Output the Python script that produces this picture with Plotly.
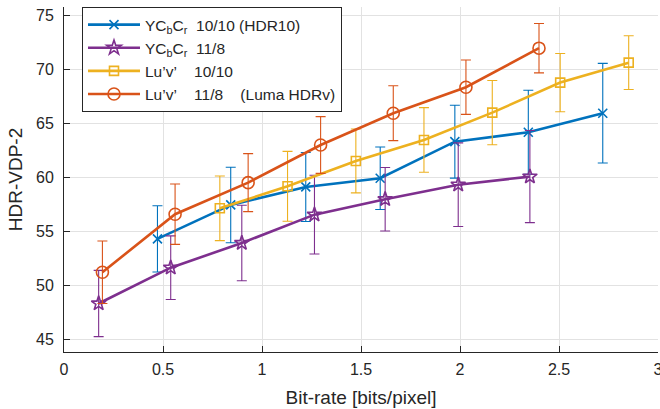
import plotly.graph_objects as go

# HDR-VDP-2 quality vs bit-rate for four colour encodings (mean +/- error)
ycbcr_1010_rate = [0.472, 0.842, 1.221, 1.597, 1.974, 2.345, 2.721]
ycbcr_1010_vdp = [54.29, 57.44, 59.11, 59.92, 63.31, 64.18, 65.95]
ycbcr_1010_err = [3.07, 3.50, 3.20, 2.90, 3.38, 3.90, 4.62]

ycbcr_118_rate = [0.175, 0.539, 0.898, 1.265, 1.622, 1.991, 2.353]
ycbcr_118_vdp = [48.30, 51.62, 53.91, 56.54, 57.97, 59.32, 60.07]
ycbcr_118_err = [3.07, 2.95, 3.50, 3.65, 2.94, 3.88, 4.27]

luv_1010_rate = [0.787, 1.129, 1.474, 1.818, 2.163, 2.506, 2.852]
luv_1010_vdp = [57.13, 59.17, 61.52, 63.47, 66.00, 68.79, 70.64]
luv_1010_err = [3.00, 3.24, 2.96, 3.00, 2.98, 2.70, 2.49]

luv_118_rate = [0.194, 0.561, 0.930, 1.296, 1.663, 2.030, 2.399]
luv_118_vdp = [51.20, 56.58, 59.51, 63.00, 65.95, 68.36, 71.98]
luv_118_err = [2.90, 2.80, 2.69, 2.63, 2.54, 2.52, 2.29]

NB = "\u00a0"
series_names = [
    "YC<sub>b</sub>C<sub>r</sub>" + NB * 2 + "10/10" + NB + "(HDR10)",
    "YC<sub>b</sub>C<sub>r</sub>" + NB * 2 + "11/8",
    "Lu\u2019v\u2019" + NB * 4 + "10/10",
    "Lu\u2019v\u2019" + NB * 4 + "11/8" + NB * 4 + "(Luma HDRv)",
]

x_ticks = [0, 0.5, 1, 1.5, 2, 2.5, 3]
y_ticks = [45, 50, 55, 60, 65, 70, 75]

FONT = "Liberation Sans, Arial, Helvetica, sans-serif"
INK = "#262626"

series = [
    (ycbcr_1010_rate, ycbcr_1010_vdp, ycbcr_1010_err, "#0072BD", "x-thin-open", 9),
    (ycbcr_118_rate, ycbcr_118_vdp, ycbcr_118_err, "#7E2F8E", "star-open", 11),
    (luv_1010_rate, luv_1010_vdp, luv_1010_err, "#EDB120", "square-open", 9),
    (luv_118_rate, luv_118_vdp, luv_118_err, "#D95319", "circle-open", 12),
]

fig = go.Figure()
for name, (xs, ys, es, col, sym, size) in zip(series_names, series):
    fig.add_trace(go.Scatter(
        x=xs, y=ys, name=name, mode="lines+markers",
        line=dict(color=col, width=2.6),
        marker=dict(symbol=sym, size=size, color=col,
                    line=dict(color=col, width=1.6)),
        error_y=dict(type="data", array=es, visible=True,
                     color=col, thickness=1.1, width=5),
    ))

fig.update_layout(
    width=660, height=409,
    margin=dict(l=64, r=2, t=7, b=57, autoexpand=False),
    paper_bgcolor="white", plot_bgcolor="white",
    font=dict(family=FONT, size=16, color=INK),
    showlegend=True,
    legend=dict(
        x=0.0303, y=1.0, xanchor="left", yanchor="top",
        bgcolor="white", bordercolor=INK, borderwidth=1,
        font=dict(family=FONT, size=15.5, color=INK),
        itemwidth=52, tracegroupgap=0,
    ),
)

fig.update_xaxes(
    range=[0, 3], tickvals=x_ticks, ticktext=[f"{v:g}" for v in x_ticks],
    automargin=False,
    showline=True, linecolor=INK, linewidth=1, mirror=False,
    ticks="inside", ticklen=6, tickcolor=INK, tickwidth=1,
    showgrid=True, gridcolor="#e2e2e2", gridwidth=1, zeroline=False,
    tickfont=dict(size=16, color=INK), ticklabelstandoff=3,
    ticklabeloverflow="allow",
    title=dict(text="Bit-rate [bits/pixel]", font=dict(size=19, color=INK), standoff=13),
)
fig.update_yaxes(
    range=[43.8, 75.8], tickvals=y_ticks,
    automargin=False,
    showline=True, linecolor=INK, linewidth=1, mirror=False,
    ticks="inside", ticklen=6, tickcolor=INK, tickwidth=1,
    showgrid=True, gridcolor="#e2e2e2", gridwidth=1, zeroline=False,
    tickfont=dict(size=16, color=INK), ticklabelstandoff=6,
    title=dict(text="HDR-VDP-2", font=dict(size=19, color=INK), standoff=8),
)

fig.write_html("out.html")
